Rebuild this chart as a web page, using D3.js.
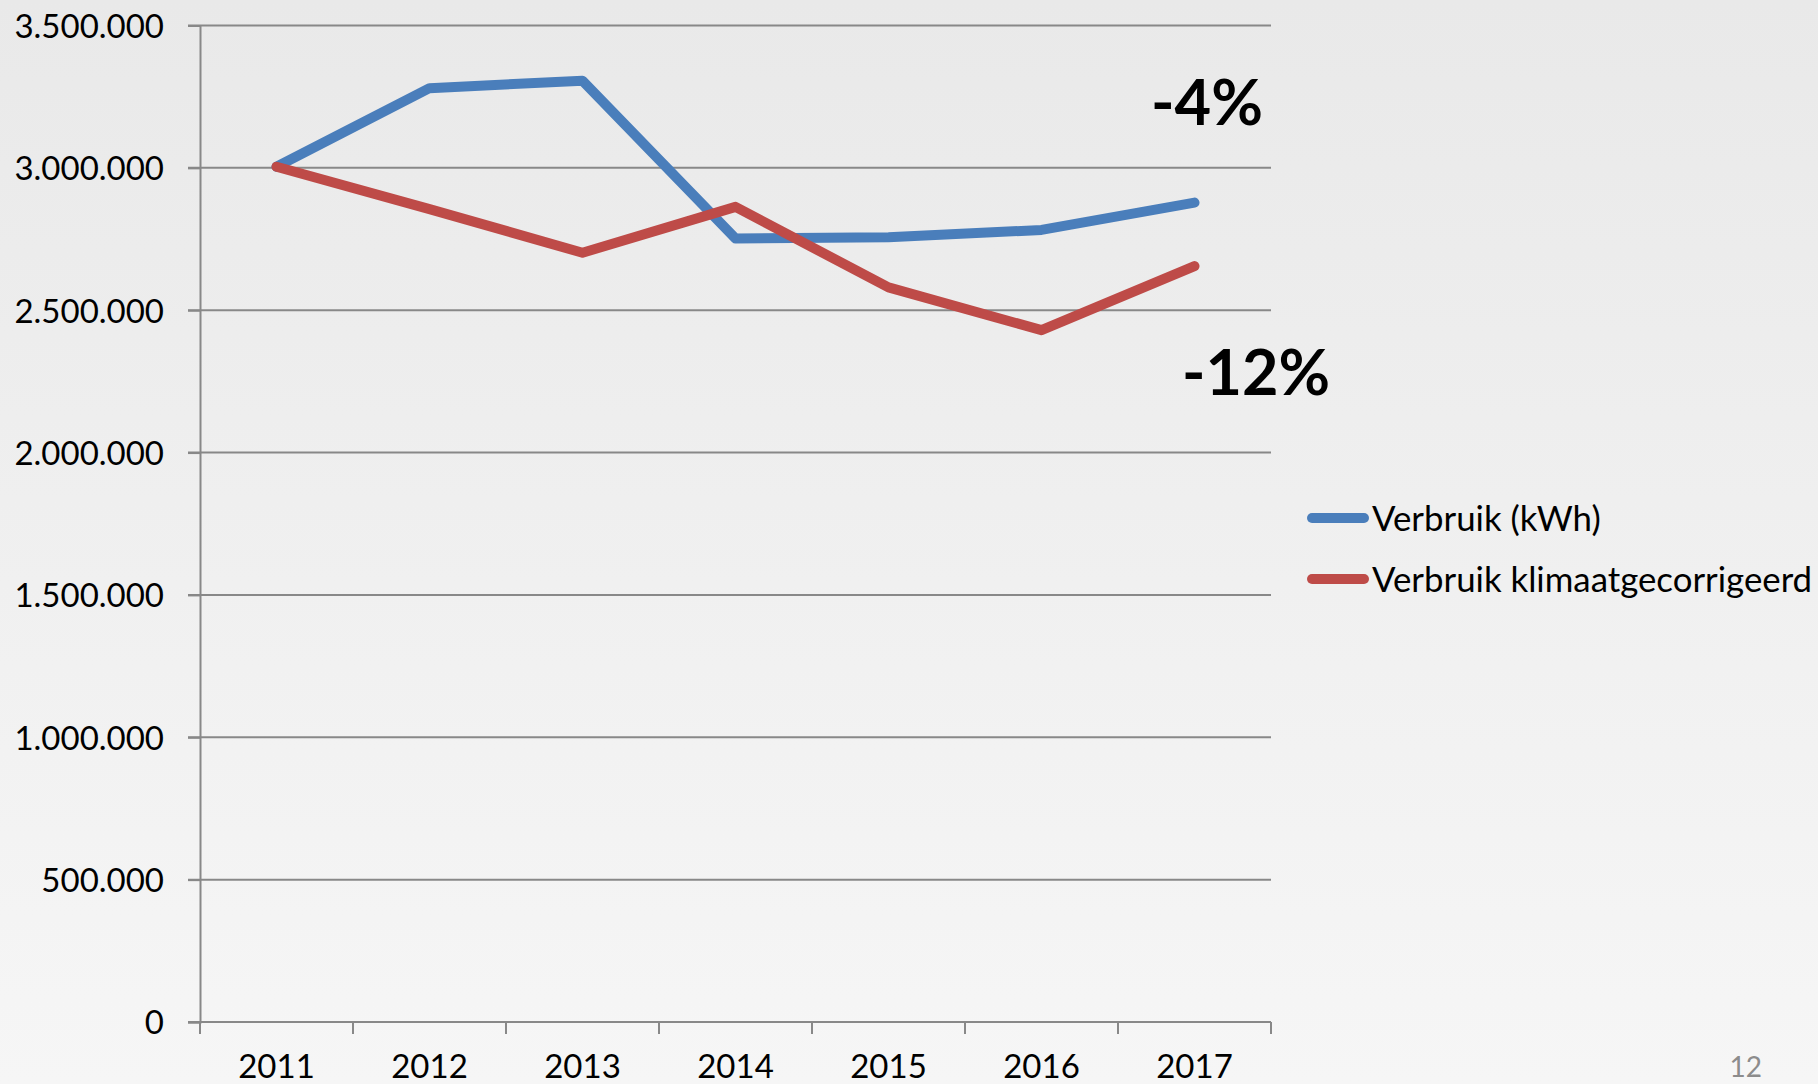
<!DOCTYPE html>
<html>
<head>
<meta charset="utf-8">
<script src="https://cdn.jsdelivr.net/npm/d3@7"></script>
<style>
  html, body { margin: 0; padding: 0; overflow: hidden; }
  body { width: 1818px; height: 1084px; }
  text { font-family: Lato, "Open Sans", sans-serif; }
</style>
</head>
<body>
<svg id="chart" width="1818" height="1084"></svg>
<script>
const years = ["2011", "2012", "2013", "2014", "2015", "2016", "2017"];
const verbruik = [3004000, 3280000, 3306000, 2752000, 2756000, 2782000, 2878000];
const klimaat = [3004000, 2855000, 2702000, 2863000, 2580000, 2430000, 2655000];
const seriesNames = ["Verbruik (kWh)", "Verbruik klimaatgecorrigeerd"];
const seriesColors = ["#4a7ebb", "#be4b48"];
const yTicks = [0, 500000, 1000000, 1500000, 2000000, 2500000, 3000000, 3500000];
const annotations = ["-4%", "-12%"];
const pageNumber = "12";

(function () {
const svg = d3.select("#chart");
const W = 1818, H = 1084;
const mLeft = 200, mRight = 1271, mTop = 25.5, mBottom = 1022;

// background gradient
const defs = svg.append("defs");
const grad = defs.append("linearGradient").attr("id", "bg").attr("x1", 0).attr("y1", 0).attr("x2", 0).attr("y2", 1);
grad.append("stop").attr("offset", "0%").attr("stop-color", "#e9e9e9");
grad.append("stop").attr("offset", "100%").attr("stop-color", "#f6f6f6");
svg.append("rect").attr("width", W).attr("height", H).attr("fill", "url(#bg)");

const x = d3.scaleBand().domain(years).range([mLeft, mRight]);
const y = d3.scaleLinear().domain([0, 3500000]).range([mBottom, mTop]);

const loc = d3.formatLocale({decimal: ",", thousands: ".", grouping: [3], currency: ["€", ""]});
const fmt = loc.format(",");

// gridlines
svg.append("g").selectAll("line").data(yTicks).join("line")
  .attr("x1", mLeft - 12).attr("x2", mRight)
  .attr("y1", d => y(d)).attr("y2", d => y(d))
  .attr("stroke", "#888").attr("stroke-width", 2);

// y axis
const yAxis = svg.append("g").attr("transform", `translate(${mLeft},0)`)
  .call(d3.axisLeft(y).tickValues(yTicks).tickFormat(fmt).tickSize(12).tickPadding(24));
yAxis.select(".domain").attr("stroke", "#888").attr("stroke-width", 2);
yAxis.selectAll(".tick line").attr("stroke", "#888").attr("stroke-width", 2);
yAxis.selectAll(".tick text").attr("fill", "#000").style("font-size", "33px").attr("dy", "0.36em");

// x axis
const xAxis = svg.append("g").attr("transform", `translate(0,${mBottom})`)
  .call(d3.axisBottom(x).tickSize(0).tickPadding(33));
xAxis.select(".domain").remove();
xAxis.selectAll(".tick text").attr("fill", "#000").style("font-size", "33px");
const edges = years.map(d => x(d)).concat([x(years[years.length - 1]) + x.bandwidth()]);
xAxis.append("line").attr("x1", mLeft).attr("x2", mRight).attr("y1", 0).attr("y2", 0)
  .attr("stroke", "#888").attr("stroke-width", 2);
xAxis.selectAll(".edge").data(edges).join("line").attr("class", "edge")
  .attr("x1", d => d).attr("x2", d => d).attr("y1", 0).attr("y2", 12)
  .attr("stroke", "#888").attr("stroke-width", 2);

// lines
const line = d3.line().x((d, i) => x(years[i]) + x.bandwidth() / 2).y(d => y(d));
[verbruik, klimaat].forEach((s, i) => {
  svg.append("path").datum(s).attr("d", line)
    .attr("fill", "none").attr("stroke", seriesColors[i]).attr("stroke-width", 10)
    .attr("stroke-linejoin", "round").attr("stroke-linecap", "round");
});

// annotations
svg.append("text").attr("x", 1151).attr("y", 125).text(annotations[0])
  .style("font-size", "64px").style("font-weight", "bold").attr("fill", "#000")
  .attr("textLength", 112).attr("lengthAdjust", "spacingAndGlyphs");
svg.append("text").attr("x", 1182).attr("y", 395).text(annotations[1])
  .style("font-size", "64px").style("font-weight", "bold").attr("fill", "#000")
  .attr("textLength", 148).attr("lengthAdjust", "spacingAndGlyphs");

// legend
const legY = [518, 579];
seriesNames.forEach((n, i) => {
  const g = svg.append("g").attr("transform", `translate(1312,${legY[i]})`);
  g.append("line").attr("x1", 0).attr("x2", 52).attr("y1", 0).attr("y2", 0)
    .attr("stroke", seriesColors[i]).attr("stroke-width", 10).attr("stroke-linecap", "round");
  g.append("text").attr("x", 60).attr("y", 0).attr("dy", "0.36em").text(n)
    .style("font-size", "34.8px").attr("fill", "#000");
});

// page number
svg.append("text").attr("x", 1762).attr("y", 1077).attr("text-anchor", "end").text(pageNumber)
  .style("font-size", "28px").attr("fill", "#8c8c8c");
})();
</script>
</body>
</html>
